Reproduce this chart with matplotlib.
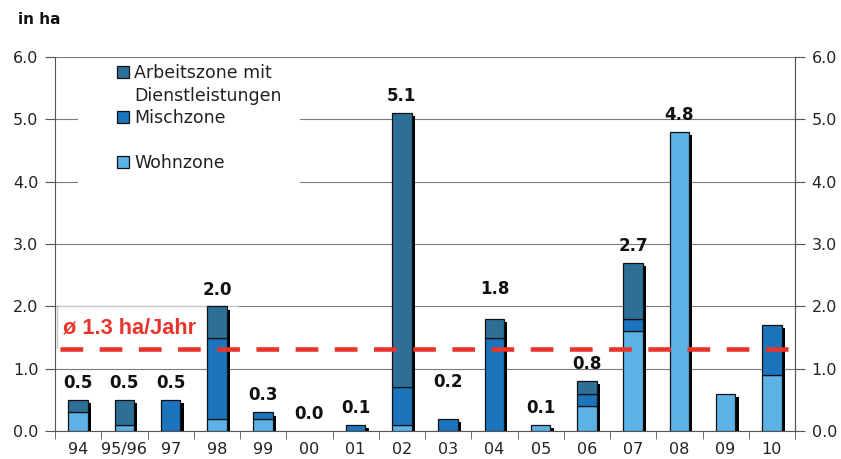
import matplotlib
matplotlib.use("Agg")
import matplotlib.pyplot as plt
import numpy as np
from matplotlib.transforms import offset_copy
from matplotlib.patches import Rectangle, Patch
from matplotlib.lines import Line2D

categories = ["94", "95/96", "97", "98", "99", "00", "01", "02", "03", "04", "05", "06", "07", "08", "09", "10"]
wohnzone = [0.3, 0.1, 0.0, 0.2, 0.2, 0.0, 0.0, 0.1, 0.0, 0.0, 0.1, 0.4, 1.6, 4.8, 0.6, 0.9]
mischzone = [0.0, 0.0, 0.5, 1.3, 0.1, 0.0, 0.1, 0.6, 0.2, 1.5, 0.0, 0.2, 0.2, 0.0, 0.0, 0.8]
arbeitszone = [0.2, 0.4, 0.0, 0.5, 0.0, 0.0, 0.0, 4.4, 0.0, 0.3, 0.0, 0.2, 0.9, 0.0, 0.0, 0.0]
value_labels = ["0.5", "0.5", "0.5", "2.0", "0.3", "0.0", "0.1", "5.1", "0.2", "1.8", "0.1", "0.8", "2.7", "4.8", "", ""]
label_extra = [0, 0, 0, 0, 0, 0, 0, 0, 0.32, 0.21, 0, 0, 0, 0, 0, 0]
average = 1.32
yticks = [0.0, 1.0, 2.0, 3.0, 4.0, 5.0, 6.0]

c_arb = "#2E6F98"
c_misch = "#1B74BC"
c_wohn = "#5DB2E5"
c_red = "#E8342A"

fig = plt.figure(figsize=(8.41, 4.59), dpi=100)
ax = fig.add_axes([55/841, 1-431/459, 740/841, 374/459])

x = np.arange(len(categories))
w = 0.42
w_ = np.array(wohnzone); m_ = np.array(mischzone); a_ = np.array(arbeitszone)
tot = w_ + m_ + a_

def lws(v):
    return np.where(np.asarray(v) > 0, 0.9, 0.0)

# shadow
shadow_tr = offset_copy(ax.transData, fig=fig, x=3.3, y=-3.3, units='dots')
ax.bar(x, tot, w, color="black", transform=shadow_tr, zorder=2, linewidth=0)

ax.bar(x, w_, w, color=c_wohn, edgecolor="#111111", linewidth=lws(w_), zorder=3)
ax.bar(x, m_, w, bottom=w_, color=c_misch, edgecolor="#111111", linewidth=lws(m_), zorder=3)
ax.bar(x, a_, w, bottom=w_ + m_, color=c_arb, edgecolor="#111111", linewidth=lws(a_), zorder=3)

for xi, t, lab, ex in zip(x, tot, value_labels, label_extra):
    if lab:
        ax.text(xi, t + 0.27 + ex, lab, ha="center", va="center", fontsize=12,
                fontweight="bold", color="#111111", zorder=5)

ax.set_xlim(-0.5, len(categories) - 0.5)
ax.set_ylim(0, 6)
ax.set_yticks(yticks)
ax.set_yticklabels([f"{v:.1f}" for v in yticks])
ax.grid(axis="y", color="#7a7a7a", linewidth=0.8, zorder=0)
ax.set_axisbelow(True)

ax.set_xticks(x)
ax.set_xticklabels(categories)
ax.set_xticks(np.arange(-0.5, len(categories)), minor=True)
ax.tick_params(axis="x", which="major", length=0, pad=8, labelsize=11.5, colors="#222222")
ax.tick_params(axis="x", which="minor", length=6, color="#555555")
ax.tick_params(axis="y", length=7, color="#555555", labelsize=11.5, pad=5, labelcolor="#222222")

for s in ["left", "bottom"]:
    ax.spines[s].set_color("#555555")
ax.spines["top"].set_visible(False)
ax.spines["right"].set_color("#555555")

ax2 = ax.twinx()
ax2.set_ylim(0, 6)
ax2.set_yticks(yticks)
ax2.set_yticklabels([f"{v:.1f}" for v in yticks])
ax2.tick_params(axis="y", length=7, color="#555555", labelsize=11.5, pad=5, labelcolor="#222222")
for s in ["top", "left", "bottom"]:
    ax2.spines[s].set_visible(False)
ax2.spines["right"].set_color("#555555")

# label box behind the average text
x0, x1 = 2/740, (238-55)/740
y0, y1 = (431-348)/374, (431-305.5)/374
ax.add_patch(Rectangle((x0, y0), x1 - x0, y1 - y0, transform=ax.transAxes,
                       facecolor="white", edgecolor="none", zorder=1))
ax.add_line(Line2D([x0, x1], [y1, y1], transform=ax.transAxes, color="#c8c8c8", lw=1.0, zorder=1.5))
ax.add_line(Line2D([x0, x0], [y0, y1], transform=ax.transAxes, color="#c8c8c8", lw=1.0, zorder=1.5))

# average line
ax.axhline(average, xmin=5/740, xmax=1, color=c_red, linewidth=3.3, dashes=(4.95, 3.6), zorder=4)
ax.text(63/841, 1-328/459, "ø 1.3 ha/Jahr", transform=fig.transFigure, color=c_red,
        fontsize=15.7, fontweight="bold", family="Liberation Sans", va="center", ha="left", zorder=6)

# legend background
ax.add_patch(Rectangle((23/740, (431-205)/374), (300-78)/740, 0.99 - (431-205)/374,
                       transform=ax.transAxes, facecolor="white", edgecolor="none", zorder=1))
blank = Patch(facecolor="none", edgecolor="none")
handles = [Patch(facecolor=c_arb, edgecolor="#111111", linewidth=0.9),
           blank,
           Patch(facecolor=c_misch, edgecolor="#111111", linewidth=0.9),
           blank,
           Patch(facecolor=c_wohn, edgecolor="#111111", linewidth=0.9)]
labels = ["Arbeitszone mit", "Dienstleistungen", "Mischzone", " ", "Wohnzone"]
leg = ax.legend(handles, labels, loc="upper left", bbox_to_anchor=((117-55)/740, (431-64)/374),
                frameon=False, fontsize=12.5, handlelength=0.7, handleheight=0.7,
                handletextpad=0.3, labelspacing=0.26, borderpad=0, borderaxespad=0)
for t in leg.get_texts():
    t.set_color("#222222")
leg.set_zorder(7)

fig.text(18/841, 1-20/459, "in ha", fontsize=11, fontweight="bold", va="center", ha="left", color="#111111")

fig.savefig("out.png", dpi=100)
